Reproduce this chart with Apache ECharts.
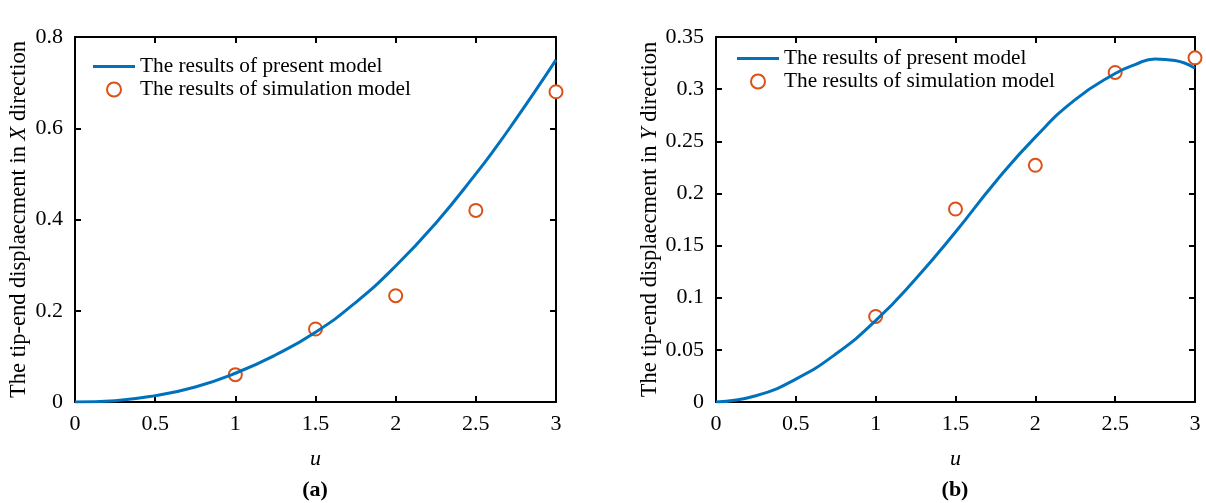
<!DOCTYPE html>
<html>
<head>
<meta charset="utf-8">
<script src="https://cdn.jsdelivr.net/npm/echarts@6/dist/echarts.min.js"></script>
<style>
  html, body { margin: 0; padding: 0; background: #fff; }
  #chart { width: 1206px; height: 503px; }
</style>
</head>
<body>
<div id="chart"></div>
<script>
// values
const uLine = [0, 0.25, 0.5, 0.75, 1, 1.25, 1.5, 1.75, 2, 2.25, 2.5, 2.625, 2.75, 2.875, 3];
const xModel = [0, 0.003, 0.014, 0.033, 0.063, 0.103, 0.153, 0.218, 0.298, 0.392, 0.5, 0.558, 0.62, 0.684, 0.75];
const yModel = [0, 0.006, 0.022, 0.046, 0.078, 0.118, 0.163, 0.211, 0.254, 0.29, 0.315, 0.3235, 0.329, 0.3275, 0.32];
const uSim = [1, 1.5, 2, 2.5, 3];
const xSim = [0.06, 0.16, 0.233, 0.42, 0.68];
const ySim = [0.082, 0.185, 0.227, 0.316, 0.33];

const FONT = "Liberation Serif";
const BLUE = "#0072BD";
const ORANGE = "#D95319";
const lineName = "The results of present model";
const simName = "The results of simulation model";

const zip = (a, b) => a.map((v, i) => [v, b[i]]);

const chart = echarts.init(document.getElementById("chart"));

function xAxes(gridIndex) {
  const base = {
    type: "value", gridIndex: gridIndex, min: 0, max: 3, interval: 0.5,
    axisLine: { show: true, onZero: false, lineStyle: { color: "#000", width: 2 } },
    axisTick: { show: true, inside: true, length: 6, lineStyle: { color: "#000", width: 2 } },
    splitLine: { show: false }
  };
  return [
    Object.assign({}, base, {
      position: "bottom",
      axisLabel: { color: "#000", fontFamily: FONT, fontSize: 22, margin: 11 },
      name: "u", nameLocation: "middle", nameGap: 46,
      nameTextStyle: { color: "#000", fontFamily: FONT, fontSize: 22, fontStyle: "italic" }
    }),
    Object.assign({}, base, { position: "top", axisLabel: { show: false } })
  ];
}

function yAxes(gridIndex, max, interval, dir) {
  const base = {
    type: "value", gridIndex: gridIndex, min: 0, max: max, interval: interval,
    axisLine: { show: true, onZero: false, lineStyle: { color: "#000", width: 2 } },
    axisTick: { show: true, inside: true, length: 6, lineStyle: { color: "#000", width: 2 } },
    splitLine: { show: false }
  };
  return [
    Object.assign({}, base, {
      position: "left",
      axisLabel: { color: "#000", fontFamily: FONT, fontSize: 22, margin: 12 },
      name: "{n|The tip-end displaecment in }{i|" + dir + "}{n| direction}",
      nameLocation: "middle", nameGap: 44, nameRotate: 90,
      nameTextStyle: {
        color: "#000", fontFamily: FONT, fontSize: 22.5,
        rich: {
          n: { fontFamily: FONT, fontSize: 22.5, color: "#000" },
          i: { fontFamily: FONT, fontSize: 22.5, color: "#000", fontStyle: "italic" }
        }
      }
    }),
    Object.assign({}, base, { position: "right", axisLabel: { show: false } })
  ];
}

function legend(left, top) {
  return {
    left: left, top: top, orient: "vertical", padding: 0,
    itemWidth: 42, itemHeight: 14, itemGap: 2,
    data: [
      { name: lineName, icon: "path://M0,0H42V3H0Z" },
      { name: simName }
    ],
    textStyle: { color: "#000", fontFamily: FONT, fontSize: 21.3 },
    selectedMode: false
  };
}

const option = {
  animation: false,
  grid: [
    { left: 75, right: 650, top: 37, bottom: 101 },
    { left: 716, right: 11, top: 37, bottom: 101 }
  ],
  xAxis: xAxes(0).concat(xAxes(1)),
  yAxis: yAxes(0, 0.8, 0.2, "X").concat(yAxes(1, 0.35, 0.05, "Y")),
  legend: [legend(93, 56), legend(737, 48)],
  series: [
    {
      name: lineName, type: "line", xAxisIndex: 0, yAxisIndex: 0,
      data: zip(uLine, xModel), smooth: true, symbol: "none",
      lineStyle: { color: BLUE, width: 3 }, itemStyle: { color: BLUE }
    },
    {
      name: simName, type: "scatter", xAxisIndex: 0, yAxisIndex: 0,
      data: zip(uSim, xSim), symbol: "emptyCircle", symbolSize: 13,
      itemStyle: { color: ORANGE, borderColor: ORANGE, borderWidth: 3, opacity: 1 }
    },
    {
      name: lineName, type: "line", xAxisIndex: 2, yAxisIndex: 2,
      data: zip(uLine, yModel), smooth: true, symbol: "none",
      lineStyle: { color: BLUE, width: 3 }, itemStyle: { color: BLUE }
    },
    {
      name: simName, type: "scatter", xAxisIndex: 2, yAxisIndex: 2,
      data: zip(uSim, ySim), symbol: "emptyCircle", symbolSize: 13,
      itemStyle: { color: ORANGE, borderColor: ORANGE, borderWidth: 3, opacity: 1 }
    }
  ],
  graphic: [
    { type: "text", x: 315, y: 479, style: { text: "(a)", align: "center", fontFamily: FONT, fontSize: 22, fontWeight: "bold", fill: "#000" } },
    { type: "text", x: 955, y: 479, style: { text: "(b)", align: "center", fontFamily: FONT, fontSize: 22, fontWeight: "bold", fill: "#000" } }
  ]
};

chart.setOption(option);
</script>
</body>
</html>
